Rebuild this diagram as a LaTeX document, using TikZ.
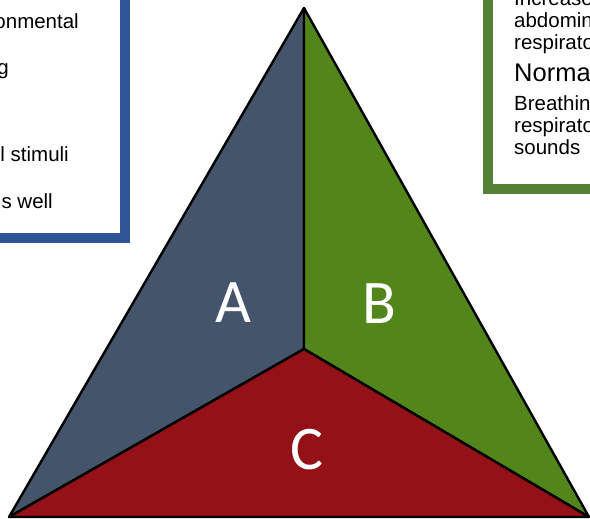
\documentclass[tikz,border=0pt]{standalone}
\usepackage{fontspec}
\setmainfont{Liberation Sans}
\newfontfamily\labfont{Carlito}
\definecolor{secA}{HTML}{44546A}
\definecolor{secB}{HTML}{52861A}
\definecolor{secC}{HTML}{941118}
\definecolor{boxblue}{HTML}{2F5597}
\definecolor{boxgreen}{HTML}{548235}
\tikzset{
  sector/.style={draw=black, line width=2.4pt, line join=round},
  infobox/.style={fill=white, line width=10pt},
  boxtext/.style={inner sep=0pt, font=\fontsize{20.5}{22}\selectfont},
  bigtext/.style={inner sep=0pt, font=\fontsize{25.5}{28}\selectfont},
  letter/.style={inner sep=0pt, text=white, font=\labfont\fontsize{62}{70}\selectfont}
}
\begin{document}
\begin{tikzpicture}[x=1pt,y=-1pt]
\useasboundingbox (0,0) rectangle (590,519);
\clip (0,0) rectangle (590,519);
% boxes
\path[infobox, draw=boxblue] (-40,-40) rectangle (125,238);
\path[infobox, draw=boxgreen] (488,-40) rectangle (640,189);
% left box text
\node[boxtext, anchor=base east] (l1) at (79,29) {onmental};
\node[boxtext, anchor=base east] (l2) at (9,75) {g};
\node[boxtext, anchor=base east] (l3) at (69,161) {l stimuli};
\node[boxtext, anchor=base east] (l4) at (53,208) {s well};
% right box text
\node[boxtext, anchor=base west] (r1) at (514,6) {Increased};
\node[boxtext, anchor=base west] (r2) at (514,28) {abdominal};
\node[boxtext, anchor=base west] (r3) at (514,50) {respiratory};
\node[bigtext, anchor=base west] (r4) at (514,82) {Normal};
\node[boxtext, anchor=base west] (r5) at (514,111) {Breathing};
\node[boxtext, anchor=base west] (r6) at (514,133) {respiratory};
\node[boxtext, anchor=base west] (r7) at (514,155) {sounds};
% triangle
\coordinate (T) at (304,8);
\coordinate (L) at (9,517);
\coordinate (R) at (589,517);
\coordinate (M) at (304,349);
\filldraw[sector, fill=secA] (T) -- (M) -- (L) -- cycle;
\filldraw[sector, fill=secB] (T) -- (R) -- (M) -- cycle;
\filldraw[sector, fill=secC] (L) -- (M) -- (R) -- cycle;
\node[letter] (A) at (233,303) {A};
\node[letter] (B) at (379,304) {B};
\node[letter] (C) at (307,450) {C};
\end{tikzpicture}
\end{document}
